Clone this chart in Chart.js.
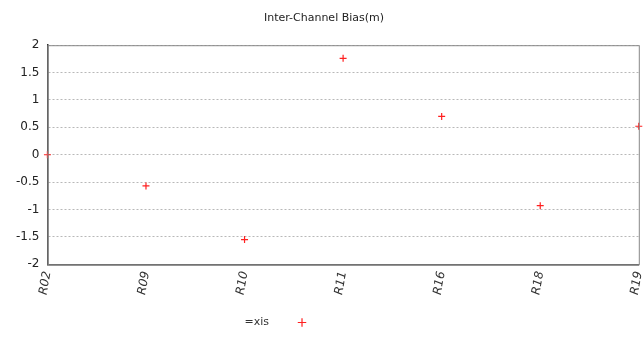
<!DOCTYPE html>
<html>
<head>
<meta charset="utf-8">
<script src="https://cdn.jsdelivr.net/npm/chart.js@4/dist/chart.umd.min.js"></script>
<style>
  body { margin: 0; background: #fff; }
  #wrap { width: 644px; height: 338px; }
</style>
</head>
<body>
<div id="wrap"><canvas id="biasChart"></canvas></div>
<script>
const satellites = ["R02", "R09", "R10", "R11", "R16", "R18", "R19"];
const biasValues = [0, -0.57, -1.55, 1.76, 0.7, -0.93, 0.52];
const yTicks = [2, 1.5, 1, 0.5, 0, -0.5, -1, -1.5, -2];

// frame around the plot area, legend nudged left like the original
const frame = {
    id: "frame",
    afterLayout(chart) {
        // rtl legend: widening the box shifts the item left
        if (chart.legend) chart.legend.right += 96;
    },
    afterDraw(chart) {
        const a = chart.chartArea;
        const ctx = chart.ctx;
        ctx.save();
        ctx.strokeStyle = "#888";
        ctx.lineWidth = 1;
        ctx.strokeRect(a.left + 0.5, a.top + 0.5, a.right - a.left, a.bottom - a.top);
        ctx.restore();
    }
};

new Chart(document.getElementById("biasChart"), {
    type: "line",
    data: {
        labels: satellites,
        datasets: [{
            label: "=xis",
            data: biasValues,
            showLine: false,
            pointStyle: "cross",
            pointRadius: 3.5,
            pointBorderWidth: 1.2,
            borderColor: "#ff2020",
            backgroundColor: "#ff2020"
        }]
    },
    options: {
        responsive: true,
        maintainAspectRatio: false,
        animation: false,
        layout: { padding: { left: 8, right: 4, top: 0, bottom: 0 } },
        plugins: {
            title: {
                display: true,
                text: "Inter-Channel Bias(m)",
                color: "#222",
                font: { family: "DejaVu Sans", size: 11, weight: "normal" },
                padding: { top: 12, bottom: 20 }
            },
            legend: {
                position: "bottom",
                rtl: true,
                labels: {
                    usePointStyle: true,
                    boxHeight: 6,
                    color: "#333",
                    font: { family: "DejaVu Sans", size: 11 },
                    padding: 0,
                    generateLabels(chart) {
                        const items = Chart.defaults.plugins.legend.labels.generateLabels(chart);
                        items.forEach(it => {
                            it.text = it.text + "\u2003\u2003";
                            it.pointStyle = "cross";
                            it.lineWidth = 1.2;
                        });
                        return items;
                    }
                }
            },
            tooltip: { enabled: false }
        },
        scales: {
            x: {
                offset: false,
                grid: { display: false, drawTicks: true, tickLength: 4 },
                border: { color: "#333", width: 1.5 },
                ticks: {
                    color: "#333",
                    font: { family: "DejaVu Sans", size: 12, style: "italic" },
                    minRotation: 80,
                    maxRotation: 80,
                    padding: 2
                },
                afterFit(axis) {
                    axis.paddingLeft = 0;
                    axis.paddingRight = 0;
                    axis.height += 19;
                }
            },
            y: {
                min: -2,
                max: 2,
                afterBuildTicks(axis) {
                    axis.ticks = yTicks.map(v => ({ value: v }));
                },
                grid: {
                    color: "#b8b8b8",
                    drawTicks: false
                },
                border: { color: "#333", width: 1.5, dash: [2, 2] },
                ticks: {
                    color: "#222",
                    font: { family: "DejaVu Sans", size: 12 },
                    padding: 8,
                    callback: v => String(v)
                }
            }
        }
    },
    plugins: [frame]
});
</script>
</body>
</html>
